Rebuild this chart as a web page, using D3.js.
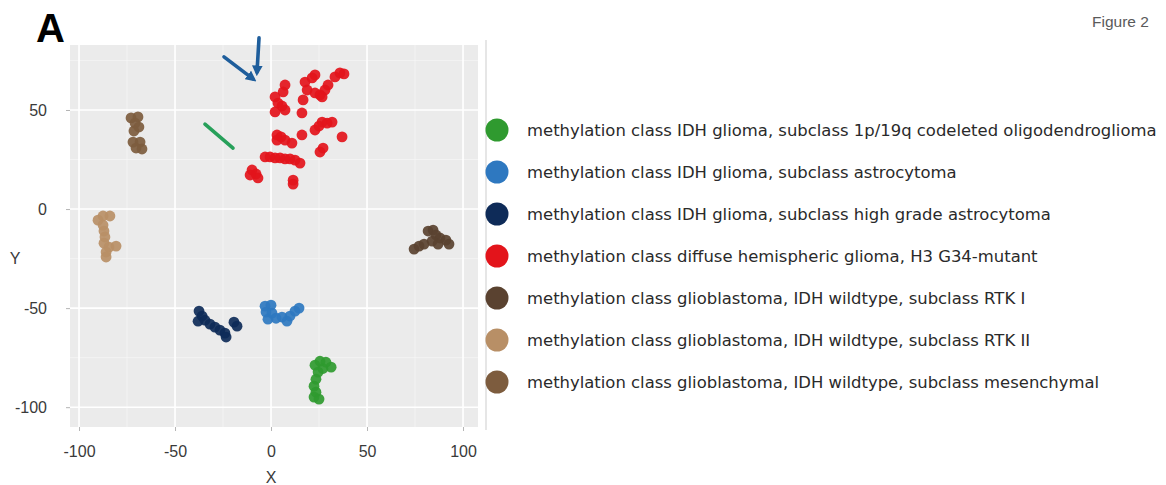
<!DOCTYPE html>
<html>
<head>
<meta charset="utf-8">
<script src="https://cdn.jsdelivr.net/npm/d3@7"></script>
<style>
  html, body { margin: 0; padding: 0; background: #ffffff; }
  svg { display: block; }
</style>
</head>
<body>
<svg id="chart" width="1166" height="485"></svg>
<script>
// t-SNE embedding of methylation profiles, one array of [X, Y] per class
const classes = [
  "methylation class IDH glioma, subclass 1p/19q codeleted oligodendroglioma",
  "methylation class IDH glioma, subclass astrocytoma",
  "methylation class IDH glioma, subclass high grade astrocytoma",
  "methylation class diffuse hemispheric glioma, H3 G34-mutant",
  "methylation class glioblastoma, IDH wildtype, subclass RTK I",
  "methylation class glioblastoma, IDH wildtype, subclass RTK II",
  "methylation class glioblastoma, IDH wildtype, subclass mesenchymal"
];
const classColors = ["#2f9a2f", "#2e78c0", "#0e2b58", "#e3141b", "#5a4230", "#b88f66", "#7d5c3e"];

const oligodendroglioma = [
  [22.9, -78.8], [25.5, -76.8], [28.6, -77.3], [31.3, -79.8], [27.0, -80.5], [24.5, -82.3],
  [23.4, -85.9], [22.4, -89.4], [23.4, -92.4], [22.4, -94.9], [25.0, -95.9]
];
const astrocytoma = [
  [-3.1, -49.0], [0.0, -48.5], [-2.6, -52.0], [0.5, -52.5], [-1.6, -55.6],
  [2.6, -55.1], [5.7, -54.5], [8.3, -56.6], [9.9, -54.0], [12.5, -51.5], [14.6, -50.0]
];
const highGradeAstrocytoma = [
  [-37.5, -51.5], [-35.9, -54.0], [-38.0, -56.6], [-34.4, -56.1], [-31.8, -58.1],
  [-29.2, -59.6], [-26.6, -61.1], [-24.0, -62.6], [-23.4, -64.6], [-19.3, -57.1], [-17.7, -59.1]
];
const h3G34 = [
  [7.3, 62.6], [6.3, 59.1], [2.1, 56.6], [3.6, 53.5], [5.7, 52.0], [7.3, 50.0], [2.1, 49.0],
  [17.7, 64.1], [21.4, 66.2], [22.9, 67.7], [18.8, 60.1], [16.7, 55.1], [22.9, 58.6],
  [25.5, 57.6], [28.1, 60.1], [29.7, 62.6], [33.3, 66.7], [35.9, 68.7], [38.0, 68.2],
  [26.6, 56.6], [16.1, 48.5], [3.1, 37.4], [5.2, 36.4], [7.3, 34.8], [10.9, 33.3],
  [3.1, 34.8], [16.1, 37.4], [22.9, 39.9], [25.0, 41.9], [26.6, 43.9], [29.2, 43.4],
  [31.8, 43.9], [37.0, 36.4], [25.5, 28.8], [27.1, 30.8], [-3.1, 26.3], [-0.5, 26.3],
  [2.1, 25.8], [4.7, 25.8], [7.3, 25.3], [9.9, 25.3], [12.5, 24.7], [15.1, 23.2],
  [-9.9, 19.7], [-7.8, 17.7], [-6.8, 15.7], [-10.9, 17.2], [11.5, 14.6], [11.5, 12.6]
];
const rtk1 = [
  [74.5, -20.2], [77.1, -18.7], [79.7, -17.7], [81.8, -11.1], [84.4, -10.6], [85.9, -13.1],
  [88.0, -14.6], [91.1, -15.7], [92.7, -17.7], [87.0, -17.7], [83.9, -16.2]
];
const rtk2 = [
  [-87.5, -3.5], [-83.9, -3.5], [-90.1, -5.6], [-87.5, -8.1], [-87.0, -11.1], [-86.5, -14.1],
  [-87.0, -17.2], [-84.4, -19.2], [-80.7, -18.7], [-85.9, -21.7], [-85.9, -24.2]
];
const mesenchymal = [
  [-72.9, 46.0], [-69.3, 46.5], [-70.8, 43.4], [-68.8, 41.4], [-71.4, 39.4],
  [-71.9, 33.8], [-68.2, 33.8], [-70.3, 30.8], [-67.2, 30.3]
];
const seriesPoints = [oligodendroglioma, astrocytoma, highGradeAstrocytoma, h3G34, rtk1, rtk2, mesenchymal];

// annotation strokes in data units: [x1, y1, x2, y2]
const blueArrows = [[-6.25, 86.4, -7.3, 69.2], [-24.5, 76.8, -9.4, 65.7]];
const greenMarks = [[-34.4, 42.9, -19.8, 30.8]];

const xTicks = [-100, -50, 0, 50, 100];
const yTicks = [-100, -50, 0, 50];
const xMinor = [-75, -25, 25, 75];
const yMinor = [-75, -25, 25, 75];

const svg = d3.select("#chart");
const panel = { left: 70, right: 478, top: 45, bottom: 427 };

const x = d3.scaleLinear().domain([-104.7, 107.8]).range([panel.left, panel.right]);
const y = d3.scaleLinear().domain([-110, 82.8]).range([panel.bottom, panel.top]);

// panel background
svg.append("rect")
  .attr("x", panel.left).attr("y", panel.top)
  .attr("width", panel.right - panel.left).attr("height", panel.bottom - panel.top)
  .attr("fill", "#ebebeb");

// grid
const grid = svg.append("g");
grid.selectAll("line.vmin").data(xMinor).join("line")
  .attr("x1", d => x(d)).attr("x2", d => x(d))
  .attr("y1", panel.top).attr("y2", panel.bottom)
  .attr("stroke", "#f6f6f6").attr("stroke-width", 0.7);
grid.selectAll("line.hmin").data(yMinor).join("line")
  .attr("y1", d => y(d)).attr("y2", d => y(d))
  .attr("x1", panel.left).attr("x2", panel.right)
  .attr("stroke", "#f6f6f6").attr("stroke-width", 0.7);
grid.selectAll("line.vmaj").data(xTicks).join("line")
  .attr("x1", d => x(d)).attr("x2", d => x(d))
  .attr("y1", panel.top).attr("y2", panel.bottom)
  .attr("stroke", "#ffffff").attr("stroke-width", 1.6);
grid.selectAll("line.hmaj").data(yTicks).join("line")
  .attr("y1", d => y(d)).attr("y2", d => y(d))
  .attr("x1", panel.left).attr("x2", panel.right)
  .attr("stroke", "#ffffff").attr("stroke-width", 1.6);

// axes
const fmt = d => String(d);
const xAxis = svg.append("g")
  .attr("transform", `translate(0,${panel.bottom})`)
  .call(d3.axisBottom(x).tickValues(xTicks).tickFormat(fmt).tickSize(4).tickPadding(15));
const yAxis = svg.append("g")
  .attr("transform", `translate(${panel.left},0)`)
  .call(d3.axisLeft(y).tickValues(yTicks).tickFormat(fmt).tickSize(4).tickPadding(19));
[xAxis, yAxis].forEach(a => {
  a.select(".domain").remove();
  a.selectAll(".tick line").attr("stroke", "#b5b5b5");
  a.selectAll(".tick text")
    .attr("fill", "#3a3a3a")
    .style("font-family", "'Liberation Sans', Arial, sans-serif")
    .style("font-size", "16px");
});

svg.append("text")
  .attr("x", x(0)).attr("y", 483)
  .attr("text-anchor", "middle")
  .attr("fill", "#3a3a3a")
  .style("font-family", "'Liberation Sans', Arial, sans-serif")
  .style("font-size", "16px")
  .text("X");
svg.append("text")
  .attr("x", 15).attr("y", 264)
  .attr("text-anchor", "middle")
  .attr("fill", "#3a3a3a")
  .style("font-family", "'Liberation Sans', Arial, sans-serif")
  .style("font-size", "16px")
  .text("Y");

// points
const pts = svg.append("g");
seriesPoints.forEach((arr, i) => {
  pts.append("g").selectAll("circle").data(arr).join("circle")
    .attr("cx", d => x(d[0]))
    .attr("cy", d => y(d[1]))
    .attr("r", 5.4)
    .attr("fill", classColors[i])
    .attr("fill-opacity", 0.92);
});

// annotation arrows
const defs = svg.append("defs");
defs.append("marker")
  .attr("id", "headBlue")
  .attr("viewBox", "0 0 10 10")
  .attr("refX", 6).attr("refY", 5)
  .attr("markerWidth", 3).attr("markerHeight", 3)
  .attr("orient", "auto")
  .append("path").attr("d", "M0,0 L10,5 L0,10 Z").attr("fill", "#1f5e9c");

svg.append("g").selectAll("line").data(blueArrows).join("line")
  .attr("x1", d => x(d[0])).attr("y1", d => y(d[1]))
  .attr("x2", d => x(d[2])).attr("y2", d => y(d[3]))
  .attr("stroke", "#1f5e9c").attr("stroke-width", 3.6).attr("stroke-linecap", "round")
  .attr("marker-end", "url(#headBlue)");
svg.append("g").selectAll("line").data(greenMarks).join("line")
  .attr("x1", d => x(d[0])).attr("y1", d => y(d[1]))
  .attr("x2", d => x(d[2])).attr("y2", d => y(d[3]))
  .attr("stroke", "#27a05a").attr("stroke-width", 3.6).attr("stroke-linecap", "round");

// legend
svg.append("line")
  .attr("x1", 486).attr("x2", 486).attr("y1", 40).attr("y2", 430)
  .attr("stroke", "#dedede").attr("stroke-width", 1.5);

const legend = svg.append("g").attr("transform", "translate(497,130)");
const rows = legend.selectAll("g").data(classes).join("g")
  .attr("transform", (d, i) => `translate(0,${i * 42})`);
rows.append("circle").attr("r", 11.5).attr("fill", (d, i) => classColors[i]);
rows.append("text")
  .attr("x", 30).attr("dy", "0.36em")
  .attr("fill", "#2a2a2a")
  .style("font-family", "'DejaVu Sans', Verdana, sans-serif")
  .style("font-size", "16.45px")
  .text(d => d);

// panel tag and figure caption
svg.append("text")
  .attr("x", 36).attr("y", 42)
  .attr("fill", "#000")
  .style("font-family", "'Liberation Sans', Arial, sans-serif")
  .style("font-size", "40px").style("font-weight", "bold")
  .text("A");
svg.append("text")
  .attr("x", 1092).attr("y", 27)
  .attr("fill", "#5a5a5a")
  .style("font-family", "'Liberation Sans', Arial, sans-serif")
  .style("font-size", "15.5px")
  .text("Figure 2");
</script>
</body>
</html>
